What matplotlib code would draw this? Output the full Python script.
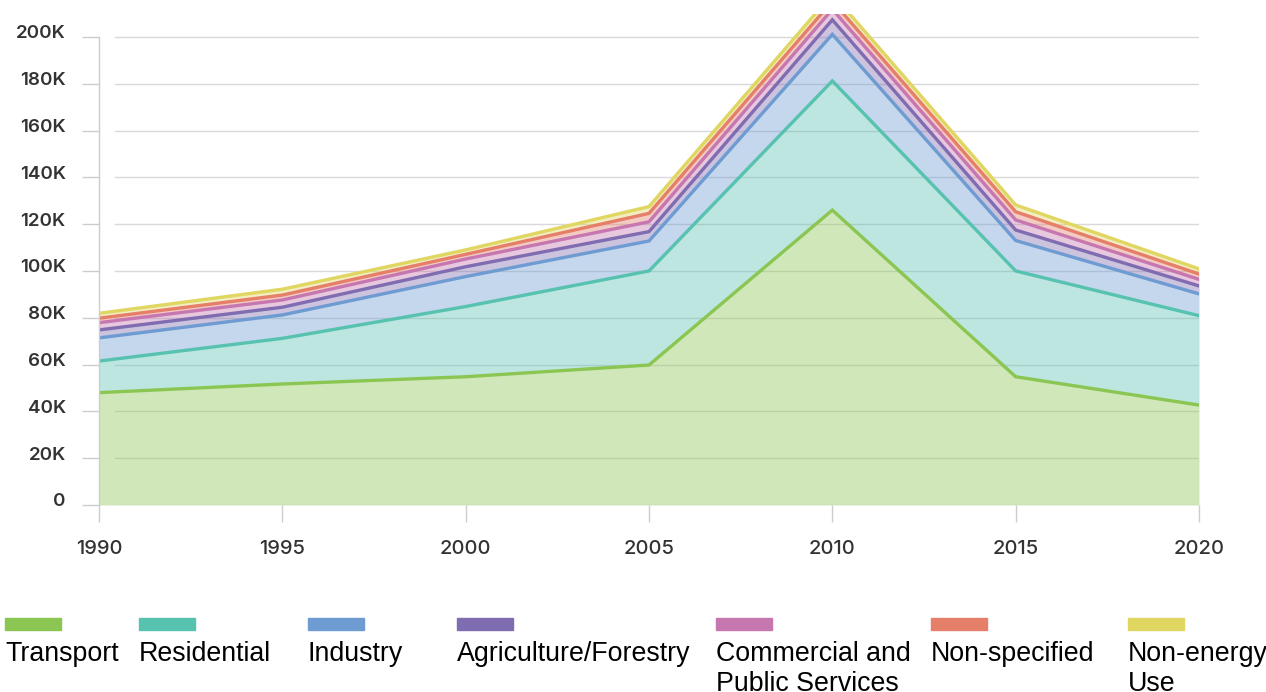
import matplotlib
matplotlib.use("Agg")
import matplotlib.pyplot as plt
import matplotlib.transforms as mtransforms
from matplotlib.patches import Rectangle
import numpy as np

years = [1990, 1995, 2000, 2005, 2010, 2015, 2020]
categories = ["Transport", "Residential", "Industry", "Agriculture/Forestry",
              "Commercial and\nPublic Services", "Non-specified", "Non-energy\nUse"]
transport = [48.0, 51.7, 54.8, 59.8, 126.0, 54.8, 42.7]
residential = [13.5, 19.5, 30.0, 40.2, 55.2, 45.2, 38.2]
industry = [9.9, 10.0, 12.8, 12.8, 19.9, 13.0, 9.3]
agriculture = [3.4, 3.3, 4.2, 4.0, 6.2, 4.5, 3.4]
commercial = [3.1, 3.1, 3.3, 4.2, 4.5, 4.3, 2.8]
nonspecified = [1.9, 2.1, 2.0, 3.6, 3.5, 3.5, 2.3]
nonenergy = [2.1, 2.5, 1.9, 2.9, 3.0, 2.9, 2.2]
yticks = [0, 20, 40, 60, 80, 100, 120, 140, 160, 180, 200]
ytick_labels = ["0", "20K", "40K", "60K", "80K", "100K", "120K", "140K", "160K", "180K", "200K"]

colors = ["#8BC652", "#58C2B0", "#6E9BD1", "#806CB0", "#C677B0", "#E57F6A", "#E0D662"]

series = [transport, residential, industry, agriculture, commercial, nonspecified, nonenergy]

W, H = 1266, 692
fig = plt.figure(figsize=(W / 100, H / 100), dpi=100)
ax = fig.add_axes([99 / W, 1 - 505 / H, 1100 / W, (505 - 13.5) / H])

x = np.array(years, dtype=float)
vals = np.array(series, dtype=float) * 1000
cum = np.cumsum(vals, axis=0)
base = np.zeros_like(x)
for i in range(len(series)):
    ax.fill_between(x, base, cum[i], color=colors[i], alpha=0.4, linewidth=0, zorder=2)
    base = cum[i]
for i in range(len(series)):
    ax.plot(x, cum[i], color=colors[i], linewidth=2.4, zorder=3 + i * 0.01,
            solid_joinstyle="miter")

ax.set_xlim(1990, 2020)
ax.set_ylim(0, 210000)

# gridlines (start slightly right of the axis)
gx0 = 16 / 1100
for t in yticks:
    ax.axhline(t * 1000, xmin=gx0, xmax=1, color="#d9d9d9", linewidth=1, zorder=1)

for s in ["top", "right", "bottom"]:
    ax.spines[s].set_visible(False)
ax.spines["left"].set_color("#cccccc")
ax.spines["left"].set_linewidth(1)
ax.spines["left"].set_bounds(0, 200000)
ax.spines["left"].set_zorder(5)

ax.set_yticks([t * 1000 for t in yticks])
ax.set_yticklabels(ytick_labels)
ax.set_xticks(years)
ax.set_xticklabels([str(y) for y in years])
ax.tick_params(axis="y", length=12, width=1, color="#cccccc", pad=12,
               labelsize=13.5, labelcolor="#333333")
ax.tick_params(axis="x", length=12.5, width=1, color="#cccccc", pad=13,
               labelsize=14.5, labelcolor="#333333")
for lab in ax.get_yticklabels():
    lab.set_fontfamily("Inter")
    lab.set_fontweight("semibold")
    lab.set_transform(lab.get_transform() + mtransforms.ScaledTranslation(0, 5 / 100, fig.dpi_scale_trans))
for lab in ax.get_xticklabels():
    lab.set_fontfamily("Inter")
    lab.set_fontweight("medium")

# legend drawn below the chart
leg_x = [5, 139, 308, 457, 716, 931, 1128]
for i, (lx, name) in enumerate(zip(leg_x, categories)):
    fig.patches.append(Rectangle((lx / W, 1 - 630 / H), 56 / W, 12 / H,
                                 transform=fig.transFigure, color=colors[i]))
    fig.text(lx / W, 1 - 641 / H, name, ha="left", va="top", fontsize=19.3,
             family="Liberation Sans", color="#000000", linespacing=1.22)

fig.savefig("out.png", dpi=100)
